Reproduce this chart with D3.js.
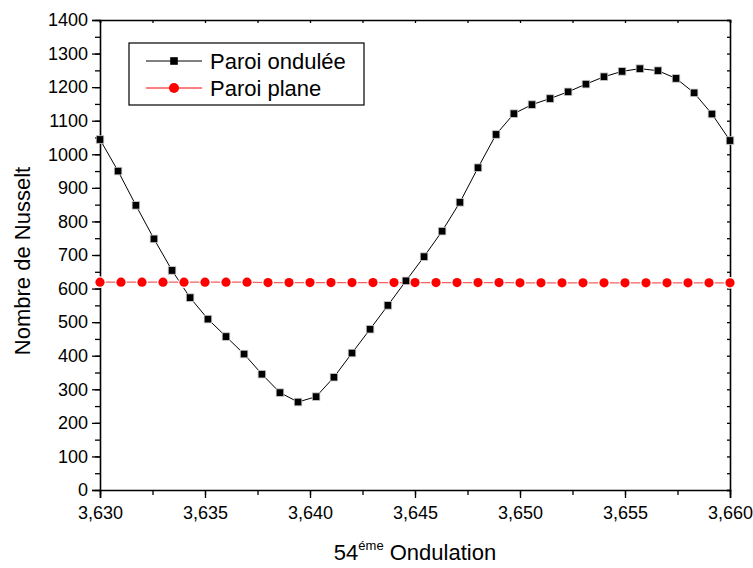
<!DOCTYPE html>
<html>
<head>
<meta charset="utf-8">
<script src="https://cdn.jsdelivr.net/npm/d3@7"></script>
<style>
  body { margin: 0; background: #fff; }
  text { font-family: Arial, "Liberation Sans", sans-serif; fill: #000; }
</style>
</head>
<body>
<div id="chart"></div>
<script>
// 54eme ondulation - Nusselt number
var xOnd = [3.6300, 3.63086, 3.63171, 3.63257, 3.63343, 3.63429, 3.63514, 3.63600, 3.63686,
  3.63771, 3.63857, 3.63943, 3.64029, 3.64114, 3.64200, 3.64286, 3.64371, 3.64457, 3.64543,
  3.64629, 3.64714, 3.64800, 3.64886, 3.64971, 3.65057, 3.65143, 3.65229, 3.65314, 3.65400,
  3.65486, 3.65571, 3.65657, 3.65743, 3.65829, 3.65914, 3.6600];
var nuOnd = [1044, 950, 848, 748, 654, 573, 509, 457, 405, 345, 290, 262, 278, 336, 408,
  479, 550, 623, 695, 771, 857, 960, 1059, 1121, 1148, 1166, 1186, 1209, 1231, 1247,
  1255, 1249, 1226, 1183, 1120, 1041];

var xPlane = [3.630, 3.631, 3.632, 3.633, 3.634, 3.635, 3.636, 3.637, 3.638, 3.639, 3.640,
  3.641, 3.642, 3.643, 3.644, 3.645, 3.646, 3.647, 3.648, 3.649, 3.650, 3.651, 3.652,
  3.653, 3.654, 3.655, 3.656, 3.657, 3.658, 3.659, 3.660];
var nuPlane = [619, 619, 619, 619, 619, 619, 619, 619, 618, 618, 618, 618, 618, 618, 618,
  618, 618, 618, 618, 618, 617, 617, 617, 617, 617, 617, 617, 617, 617, 617, 617];

var xTicks = [3.630, 3.635, 3.640, 3.645, 3.650, 3.655, 3.660];
var yTicks = [0, 100, 200, 300, 400, 500, 600, 700, 800, 900, 1000, 1100, 1200, 1300, 1400];
var seriesNames = ["Paroi ondulée", "Paroi plane"];

var W = 753, H = 568;
var margin = {top: 20, right: 23, bottom: 78, left: 100};
var width = W - margin.left - margin.right;
var height = H - margin.top - margin.bottom;

var svg = d3.select("#chart").append("svg")
  .attr("width", W).attr("height", H);
var g = svg.append("g")
  .attr("transform", "translate(" + margin.left + "," + margin.top + ")");

var x = d3.scaleLinear().domain([3.630, 3.660]).range([0, width]);
var y = d3.scaleLinear().domain([0, 1400]).range([height, 0]);

var fmtX = function(d) { return d3.format(".3f")(d).replace(".", ","); };

// minor ticks
var xMinor = d3.range(0, 13).map(function(i) { return 3.630 + i * 0.0025; });
var yMinor = d3.range(0, 29).map(function(i) { return i * 50; });

// bottom axis
var xAxis = g.append("g").attr("transform", "translate(0," + height + ")");
xAxis.call(d3.axisBottom(x).tickValues(xMinor).tickSize(5).tickFormat(""));
xAxis.call(function(s) { s.selectAll(".domain").remove(); });
var xMaj = g.append("g").attr("transform", "translate(0," + height + ")")
  .call(d3.axisBottom(x).tickValues(xTicks).tickSize(8).tickPadding(8).tickFormat(fmtX));
xMaj.selectAll("text").style("font-size", "18px");

// left axis
var yAxis = g.append("g");
yAxis.call(d3.axisLeft(y).tickValues(yMinor).tickSize(5).tickFormat(""));
yAxis.call(function(s) { s.selectAll(".domain").remove(); });
var yMaj = g.append("g")
  .call(d3.axisLeft(y).tickValues(yTicks).tickSize(8).tickPadding(4).tickFormat(d3.format("d")));
yMaj.selectAll("text").style("font-size", "18px");

// top / right mirror ticks (inward)
var top = g.append("g").call(d3.axisTop(x).tickValues(xMinor).tickSize(-3).tickFormat(""));
var right = g.append("g").attr("transform", "translate(" + width + ",0)")
  .call(d3.axisRight(y).tickValues(yMinor).tickSize(-3).tickFormat(""));

g.selectAll(".domain").attr("stroke-width", 1.6);
g.selectAll(".tick line").attr("stroke-width", 1.3);

var planeData = xPlane.map(function(d, i) { return {x: d, y: nuPlane[i]}; });
var ondData = xOnd.map(function(d, i) { return {x: d, y: nuOnd[i]}; });

var line = d3.line().x(function(d) { return x(d.x); }).y(function(d) { return y(d.y); });

// red line - paroi plane
g.append("path").datum(planeData)
  .attr("d", line)
  .attr("fill", "none")
  .attr("stroke", "#f46060")
  .attr("stroke-width", 1.2);

// black line - paroi ondulee
g.append("path").datum(ondData)
  .attr("d", line)
  .attr("fill", "none")
  .attr("stroke", "#000")
  .attr("stroke-width", 1);

g.selectAll(".circ").data(planeData).enter().append("circle")
  .attr("class", "circ")
  .attr("cx", function(d) { return x(d.x); })
  .attr("cy", function(d) { return y(d.y); })
  .attr("r", 4.6)
  .attr("fill", "#ff0000")
  .attr("stroke", "#fff")
  .attr("stroke-width", 2.5)
  .attr("paint-order", "stroke");

g.selectAll(".sq").data(ondData).enter().append("rect")
  .attr("class", "sq")
  .attr("x", function(d) { return x(d.x) - 3.8; })
  .attr("y", function(d) { return y(d.y) - 3.8; })
  .attr("width", 7.6).attr("height", 7.6)
  .attr("fill", "#000")
  .attr("stroke", "#ccc")
  .attr("stroke-width", 0.8);

// legend
var leg = g.append("g").attr("transform", "translate(29,23)");
leg.append("rect")
  .attr("width", 235).attr("height", 62)
  .attr("fill", "#fff").attr("stroke", "#000").attr("stroke-width", 1.2);

var row1 = leg.append("g").attr("transform", "translate(0,18)");
row1.append("line").attr("x1", 17).attr("x2", 73).attr("stroke", "#000");
row1.append("rect").attr("x", 41.2).attr("y", -3.8).attr("width", 7.6).attr("height", 7.6).attr("fill", "#000");
row1.append("text").attr("x", 81).attr("y", 8).style("font-size", "22px").text(seriesNames[0]);

var row2 = leg.append("g").attr("transform", "translate(0,45)");
row2.append("line").attr("x1", 17).attr("x2", 73).attr("stroke", "#ff0000");
row2.append("circle").attr("cx", 45).attr("cy", 0).attr("r", 5).attr("fill", "#ff0000");
row2.append("text").attr("x", 81).attr("y", 8).style("font-size", "22px").text(seriesNames[1]);

// axis titles
svg.append("text")
  .attr("transform", "translate(30," + (margin.top + height / 2 + 6) + ") rotate(-90)")
  .attr("text-anchor", "middle")
  .style("font-size", "22px")
  .text("Nombre de Nusselt");

var xt = svg.append("text")
  .attr("x", margin.left + width / 2)
  .attr("y", 560)
  .attr("text-anchor", "middle")
  .style("font-size", "22px");
xt.append("tspan").text("54");
xt.append("tspan").attr("dy", -10).style("font-size", "13px").text("éme");
xt.append("tspan").attr("dy", 10).text(" Ondulation");
</script>
</body>
</html>
